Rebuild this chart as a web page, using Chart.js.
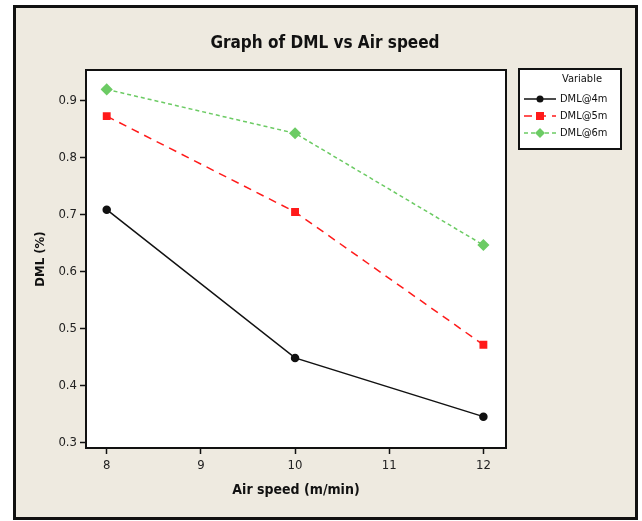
<!DOCTYPE html>
<html>
<head>
<meta charset="utf-8">
<script src="https://cdn.jsdelivr.net/npm/chart.js@4"></script>
<style>
  html, body { margin: 0; padding: 0; background: #fff; }
  #frame {
    position: absolute; left: 13px; top: 5px;
    width: 619px; height: 509px;
    border: 3px solid #111; background: #eeeae0;
  }
  canvas { position: absolute; left: 0; top: 0; }
</style>
</head>
<body>
<div id="frame"></div>
<canvas id="chart" width="642" height="521"></canvas>
<script>
// данные графика
const airSpeed = [8, 10, 12]
const dml4 = [0.708, 0.448, 0.345]
const dml5 = [0.872, 0.704, 0.471]
const dml6 = [0.919, 0.842, 0.646]
const xTicks = [8, 9, 10, 11, 12]
const yTicks = [0.3, 0.4, 0.5, 0.6, 0.7, 0.8, 0.9]
const chartTitle = "Graph of DML vs Air speed"

const FONT = "'DejaVu Sans Condensed', 'DejaVu Sans', sans-serif"

const toPoints = (vals) => vals.map((v, i) => ({ x: airSpeed[i], y: v }))

// белая область построения + заголовок по центру рамки
const plotBg = {
  id: "plotBg",
  beforeDraw(chart) {
    const { ctx, chartArea: a } = chart
    ctx.save()
    ctx.fillStyle = "#fff"
    ctx.fillRect(a.left, a.top, a.right - a.left, a.bottom - a.top)
    ctx.fillStyle = "#111"
    ctx.font = "bold 17px " + FONT
    ctx.textAlign = "center"
    ctx.textBaseline = "middle"
    ctx.fillText(chartTitle, 325, 44)
    ctx.restore()
  },
  afterDatasetsDraw(chart) {
    const { ctx, chartArea: a } = chart
    ctx.save()
    ctx.strokeStyle = "#111"
    ctx.lineWidth = 2
    ctx.strokeRect(a.left, a.top, a.right - a.left, a.bottom - a.top)
    ctx.restore()
  }
}

// легенда в рамке, как в Minitab
const boxLegend = {
  id: "boxLegend",
  afterDraw(chart) {
    const { ctx } = chart
    const x = 519, y = 69, w = 102, h = 80
    ctx.save()
    ctx.fillStyle = "#fff"
    ctx.fillRect(x, y, w, h)
    ctx.strokeStyle = "#111"
    ctx.lineWidth = 2
    ctx.strokeRect(x, y, w, h)
    ctx.fillStyle = "#111"
    ctx.font = "11px " + FONT
    ctx.textBaseline = "middle"
    ctx.textAlign = "center"
    ctx.fillText("Variable", 582, 79)
    ctx.textAlign = "left"
    chart.data.datasets.forEach((ds, i) => {
      const ly = 99 + i * 17
      ctx.strokeStyle = ds.borderColor
      ctx.lineWidth = ds.borderWidth
      ctx.setLineDash(ds.borderDash || [])
      ctx.beginPath()
      ctx.moveTo(524, ly)
      ctx.lineTo(556, ly)
      ctx.stroke()
      ctx.setLineDash([])
      ctx.fillStyle = ds.pointBackgroundColor
      ctx.beginPath()
      if (ds.pointStyle === "circle") {
        ctx.arc(540, ly, 3.5, 0, Math.PI * 2)
      } else if (ds.pointStyle === "rect") {
        ctx.rect(536, ly - 4, 8, 8)
      } else {
        ctx.moveTo(540, ly - 5); ctx.lineTo(545, ly); ctx.lineTo(540, ly + 5); ctx.lineTo(535, ly)
        ctx.closePath()
      }
      ctx.fill()
      ctx.fillStyle = "#111"
      ctx.fillText(ds.label, 560, ly)
    })
    ctx.restore()
  }
}

new Chart(document.getElementById("chart"), {
  type: "line",
  data: {
    datasets: [
      {
        label: "DML@4m",
        data: toPoints(dml4),
        borderColor: "#111",
        pointBackgroundColor: "#111",
        pointBorderColor: "#111",
        borderWidth: 1.5,
        pointStyle: "circle",
        pointRadius: 3.5
      },
      {
        label: "DML@5m",
        data: toPoints(dml5),
        borderColor: "#ff1a1a",
        pointBackgroundColor: "#ff1a1a",
        pointBorderColor: "#ff1a1a",
        borderWidth: 1.5,
        borderDash: [8, 6],
        pointStyle: "rect",
        pointRadius: 4.5
      },
      {
        label: "DML@6m",
        data: toPoints(dml6),
        borderColor: "#6ccb64",
        pointBackgroundColor: "#6ccb64",
        pointBorderColor: "#6ccb64",
        borderWidth: 1.5,
        borderDash: [4, 3],
        pointStyle: "rectRot",
        pointRadius: 5
      }
    ]
  },
  options: {
    responsive: false,
    animation: false,
    layout: { padding: { left: 33, right: 136, top: 70, bottom: 0 } },
    plugins: {
      legend: { display: false },
      tooltip: { enabled: false },
      title: { display: false }
    },
    scales: {
      x: {
        type: "linear",
        min: 7.78,
        max: 12.24,
        afterBuildTicks: (s) => { s.ticks = xTicks.map(v => ({ value: v })) },
        afterFit: (s) => { s.height = 73 },
        grid: { drawOnChartArea: false, drawTicks: true, tickLength: 6, color: "#111", tickWidth: 1.5 },
        border: { display: false },
        ticks: { color: "#222", font: { family: FONT, size: 13 }, padding: 4 },
        title: {
          display: true,
          text: "Air speed (m/min)",
          color: "#111",
          font: { family: FONT, size: 14, weight: "bold" },
          padding: { top: 0, bottom: 22 }
        }
      },
      y: {
        min: 0.29,
        max: 0.953,
        afterBuildTicks: (s) => { s.ticks = yTicks.map(v => ({ value: v })) },
        afterFit: (s) => { s.width = 53 },
        grid: { drawOnChartArea: false, drawTicks: true, tickLength: 6, color: "#111", tickWidth: 1.5 },
        border: { display: false },
        ticks: { color: "#222", font: { family: FONT, size: 13 }, padding: 3, callback: (v) => v.toFixed(1) },
        title: {
          display: true,
          text: "DML (%)",
          color: "#111",
          font: { family: FONT, size: 13, weight: "bold" },
          padding: 0
        }
      }
    }
  },
  plugins: [plotBg, boxLegend]
})
</script>
</body>
</html>
